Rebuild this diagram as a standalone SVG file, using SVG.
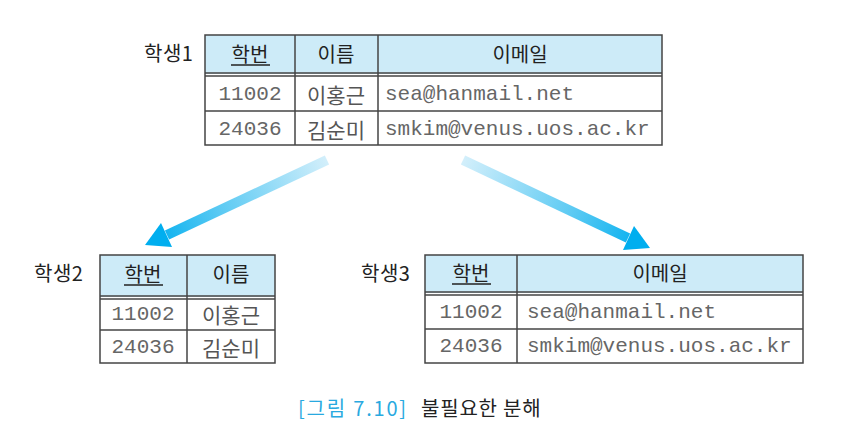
<svg xmlns="http://www.w3.org/2000/svg" width="845" height="431" viewBox="0 0 845 431">
<defs>
<linearGradient id="gL" gradientUnits="userSpaceOnUse" x1="327" y1="160" x2="150" y2="243">
<stop offset="0" stop-color="#d3effb"/><stop offset="0.6" stop-color="#5ccaf3"/><stop offset="1" stop-color="#00aeef"/>
</linearGradient>
<linearGradient id="gR" gradientUnits="userSpaceOnUse" x1="463" y1="160" x2="645" y2="246">
<stop offset="0" stop-color="#d3effb"/><stop offset="0.6" stop-color="#5ccaf3"/><stop offset="1" stop-color="#00aeef"/>
</linearGradient>
</defs>
<style>
.hd{fill:#cdebf8}
.bd{fill:none;stroke:#444;stroke-width:1.5}
.ln{stroke:#444;stroke-width:1.5}
.th{font-family:"Noto Sans CJK KR","Noto Sans",sans-serif;font-size:20px;fill:#222;text-anchor:middle;dominant-baseline:central}
.lb{font-family:"Noto Sans CJK KR","Noto Sans",sans-serif;font-size:20px;fill:#222;letter-spacing:0.5px;dominant-baseline:central}
.num{font-family:"Liberation Mono",monospace;font-size:21px;fill:#666;text-anchor:middle;dominant-baseline:central}
.em{font-family:"Liberation Mono",monospace;font-size:21px;fill:#666;dominant-baseline:central}
.nm{font-family:"Noto Sans CJK KR",sans-serif;font-size:21px;fill:#555;text-anchor:middle;dominant-baseline:central}
.ul{stroke:#222;stroke-width:1.3}
.cap{font-family:"Noto Sans CJK KR","Noto Sans",sans-serif;font-size:20px;dominant-baseline:central}
</style>
<g id="t1">
<text class="lb" x="144" y="52">학생1</text>
<rect class="hd" x="205" y="35" width="457" height="39"/>
<rect class="bd" x="205" y="35" width="457" height="110"/>
<line class="ln" x1="205" y1="73" x2="662" y2="73"/><line class="ln" x1="205" y1="76" x2="662" y2="76"/>
<line class="ln" x1="205" y1="111" x2="662" y2="111"/>
<line class="ln" x1="295" y1="35" x2="295" y2="145"/>
<line class="ln" x1="378" y1="35" x2="378" y2="145"/>
<text class="th" x="250" y="53">학번</text><line class="ul" x1="231" y1="65" x2="270" y2="65"/>
<text class="th" x="336" y="53">이름</text>
<text class="th" x="520" y="53">이메일</text>
<text class="num" x="250" y="94">11002</text><text class="nm" x="336" y="94">이홍근</text><text class="em" x="385" y="94">sea@hanmail.net</text>
<text class="num" x="250" y="129">24036</text><text class="nm" x="336" y="129">김순미</text><text class="em" x="385" y="129">smkim@venus.uos.ac.kr</text>
</g>
<g id="t2">
<text class="lb" x="34" y="272">학생2</text>
<rect class="hd" x="100" y="255" width="175" height="42"/>
<rect class="bd" x="100" y="255" width="175" height="108"/>
<line class="ln" x1="100" y1="296" x2="275" y2="296"/><line class="ln" x1="100" y1="299" x2="275" y2="299"/>
<line class="ln" x1="100" y1="330" x2="275" y2="330"/>
<line class="ln" x1="187" y1="255" x2="187" y2="363"/>
<text class="th" x="143" y="273">학번</text><line class="ul" x1="124" y1="285" x2="163" y2="285"/>
<text class="th" x="231" y="273">이름</text>
<text class="num" x="143" y="314">11002</text><text class="nm" x="231" y="314">이홍근</text>
<text class="num" x="143" y="347">24036</text><text class="nm" x="231" y="347">김순미</text>
</g>
<g id="t3">
<text class="lb" x="361" y="272">학생3</text>
<rect class="hd" x="425" y="255" width="378" height="38"/>
<rect class="bd" x="425" y="255" width="378" height="108"/>
<line class="ln" x1="425" y1="292" x2="803" y2="292"/><line class="ln" x1="425" y1="295" x2="803" y2="295"/>
<line class="ln" x1="425" y1="329" x2="803" y2="329"/>
<line class="ln" x1="517" y1="255" x2="517" y2="363"/>
<text class="th" x="471" y="272">학번</text><line class="ul" x1="452" y1="284" x2="491" y2="284"/>
<text class="th" x="660" y="272">이메일</text>
<text class="num" x="471" y="312">11002</text><text class="em" x="527" y="312">sea@hanmail.net</text>
<text class="num" x="471" y="346">24036</text><text class="em" x="527" y="346">smkim@venus.uos.ac.kr</text>
</g>
<g id="connectors">
<line x1="327" y1="160" x2="167" y2="235" stroke="url(#gL)" stroke-width="10"/>
<polygon points="145,245 172,247 161,223" fill="#00aeef"/>
<line x1="463" y1="160" x2="628" y2="238" stroke="url(#gR)" stroke-width="10"/>
<polygon points="650,248 623,250 634,226" fill="#00aeef"/>
</g>
<g id="caption">
<text class="cap" x="298" y="407" fill="#29a9e0" letter-spacing="1.8">[그림 7.10]</text>
<text class="cap" x="421" y="407" fill="#222" letter-spacing="0.8">불필요한 분해</text>
</g>
</svg>
